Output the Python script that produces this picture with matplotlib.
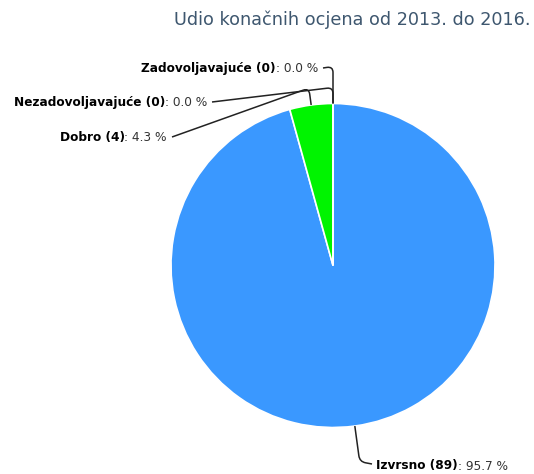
import numpy as np
import matplotlib.pyplot as plt
from matplotlib.path import Path
from matplotlib.patches import PathPatch

plt.rcParams['font.family'] = 'DejaVu Sans'

# ==============================================================================
# DATA
# ==============================================================================

TITLE = "Udio konačnih ocjena od 2013. do 2016."
categories = ["Izvrsno", "Dobro", "Nezadovoljavajuće", "Zadovoljavajuće"]
counts = [89, 4, 0, 0]
percents = [95.7, 4.3, 0.0, 0.0]
colors = ["#3A98FF", "#00F400", "#FF0000", "#FFAA00"]

# ==============================================================================
# LAYOUT (pixel coordinates, y measured from top)
# ==============================================================================

W, H = 534, 474
CX, CY, R = 333, 265.5, 162
FS = 8.7

# label text anchor (x, y centre, alignment) and connector break distance
label_layout = {
    "Izvrsno":           (376, 466, "left", 36),
    "Dobro":             (167, 137, "right", 17),
    "Nezadovoljavajuće": (207, 102, "right", 16),
    "Zadovoljavajuće":   (318, 68, "right", 37),
}


def py(y):
    return H - y


fig = plt.figure(figsize=(W / 100, H / 100), dpi=100)
ax = fig.add_axes([0, 0, 1, 1])

ax.pie(counts, colors=colors, startangle=90, counterclock=False,
       center=(CX, py(CY)), radius=R,
       wedgeprops=dict(edgecolor="white", linewidth=1.2))
ax.set_xlim(0, W)
ax.set_ylim(0, H)
ax.set_aspect("equal")
ax.axis("off")

ax.text(530, py(20), TITLE, ha="right", va="center", fontsize=12.7, color="#3E576F")

# labels + soft connectors
total = sum(counts)
cum = 0.0
for name, n, pct in zip(categories, counts, percents):
    mid = (cum + n / 2) / total * 2 * np.pi  # clockwise from top
    cum += n
    dx, dy = np.sin(mid), -np.cos(mid)  # pixel direction (y down)
    ax_pt = (CX + R * dx, CY + R * dy)
    lx, ly, ha, d = label_layout[name]
    bend = (CX + (R + d) * dx, CY + (R + d) * dy)

    value = f": {pct:.1f} %"
    if ha == "right":
        t_val = ax.text(lx, py(ly), value, ha="right", va="center", fontsize=FS, color="#333333")
        ax.annotate(f"{name} ({n})", xy=(0, 0.5), xycoords=t_val, ha="right", va="center",
                    fontsize=FS, fontweight="bold", color="black")
        start = (lx + 5, ly)
    else:
        t_name = ax.text(lx, py(ly), f"{name} ({n})", ha="left", va="center",
                         fontsize=FS, fontweight="bold", color="black")
        ax.annotate(value, xy=(1, 0.5), xycoords=t_name, ha="left", va="center",
                    fontsize=FS, color="#333333")
        start = (lx - 4, ly - 2)

    # soft connector: label -> near bend -> curve -> anchor on pie edge
    sx, sy = start
    bx, by = bend
    v1 = np.array([sx - bx, sy - by]); v1 = v1 / (np.hypot(*v1) or 1)
    v2 = np.array([ax_pt[0] - bx, ax_pt[1] - by]); v2 = v2 / (np.hypot(*v2) or 1)
    p1 = (bx + 6 * v1[0], by + 6 * v1[1])
    p2 = (bx + 6 * v2[0], by + 6 * v2[1])
    verts = [(sx, py(sy)), (p1[0], py(p1[1])), (bx, py(by)), (p2[0], py(p2[1])),
             (ax_pt[0], py(ax_pt[1]))]
    codes = [Path.MOVETO, Path.LINETO, Path.CURVE3, Path.CURVE3, Path.LINETO]
    ax.add_patch(PathPatch(Path(verts, codes), fill=False, edgecolor="#222222", lw=1.1))

fig.savefig("out.png", dpi=100)
